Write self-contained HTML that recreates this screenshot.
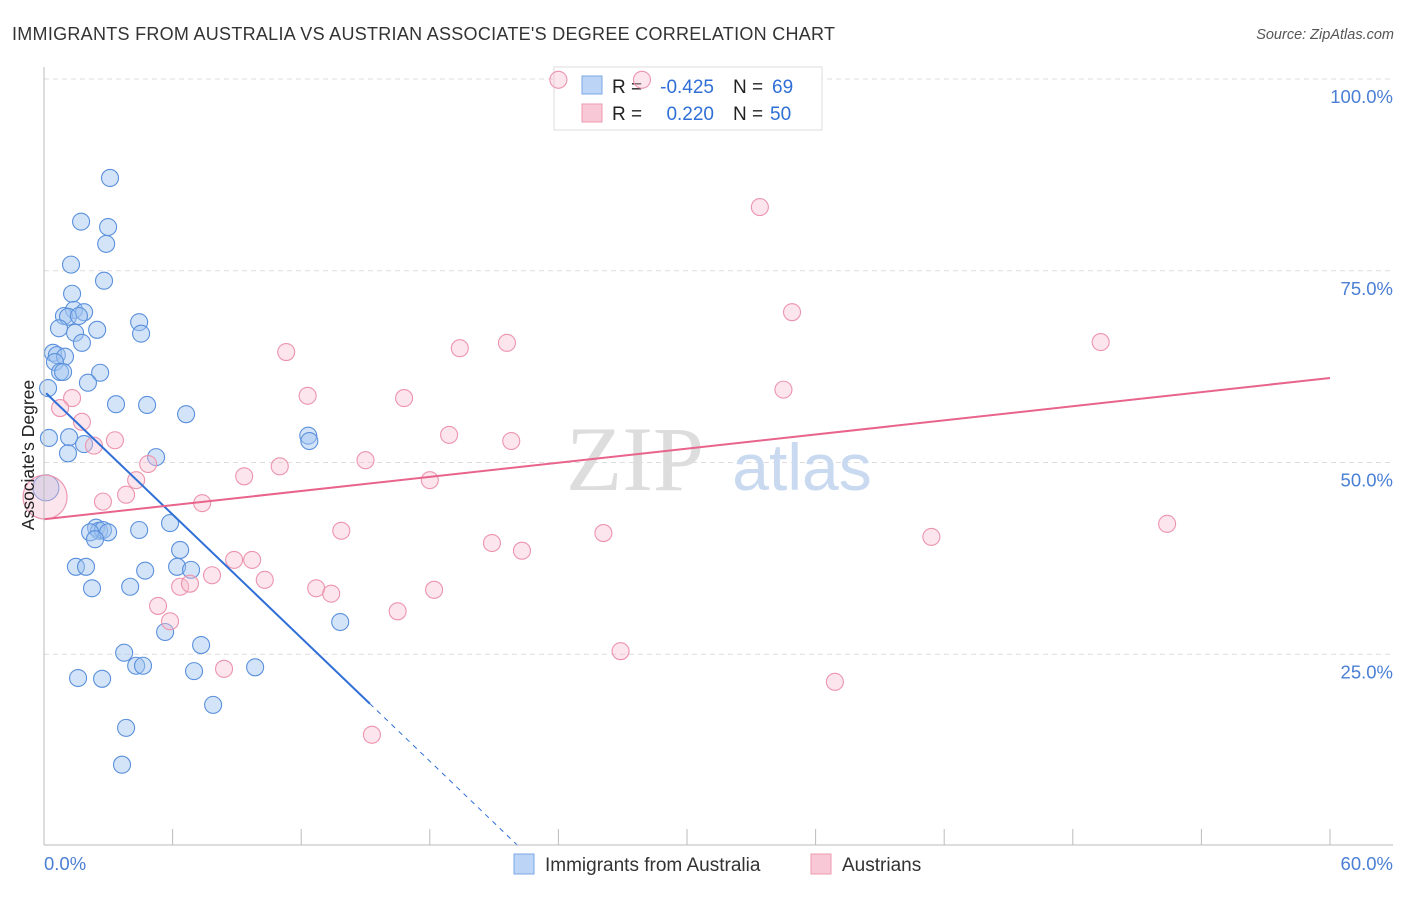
<!DOCTYPE html>
<html><head><meta charset="utf-8"><style>
body{margin:0;background:#fff;font-family:"Liberation Sans",sans-serif}
</style></head><body>
<svg width="1406" height="892" viewBox="0 0 1406 892" xmlns="http://www.w3.org/2000/svg">
<text x="12" y="40" font-size="18" fill="#333" textLength="823">IMMIGRANTS FROM AUSTRALIA VS AUSTRIAN ASSOCIATE'S DEGREE CORRELATION CHART</text>
<text x="1394" y="39" font-size="14.5" fill="#555" font-style="italic" text-anchor="end">Source: ZipAtlas.com</text>
<g id="grid"></g>
<text x="635" y="490" font-size="92" fill="#ddd" font-family="Liberation Serif,serif" text-anchor="middle">ZIP</text>
<text x="802" y="490" font-size="66" fill="#c9d9f0" text-anchor="middle">atlas</text>
<g>
<rect x="554" y="67" width="268" height="63" fill="#fff" stroke="#ddd"/>
<rect x="582" y="76" width="20" height="18" fill="#bcd4f5" stroke="#7aa7e6"/>
<rect x="582" y="104" width="20" height="18" fill="#f9c8d6" stroke="#ee9ab2"/>
<text x="612" y="93" font-size="19" fill="#222">R =</text>
<text x="714" y="93" font-size="19" fill="#2f6fd6" text-anchor="end">-0.425</text>
<text x="733" y="93" font-size="19" fill="#222">N =</text>
<text x="772" y="93" font-size="19" fill="#2f6fd6">69</text>
<text x="612" y="120" font-size="19" fill="#222">R =</text>
<text x="714" y="120" font-size="19" fill="#2f6fd6" text-anchor="end">0.220</text>
<text x="733" y="120" font-size="19" fill="#222">N =</text>
<text x="770" y="120" font-size="19" fill="#2f6fd6">50</text>
</g>
<g id="pts"></g>
<g id="lines"></g>
<line x1="44" y1="67" x2="44" y2="845" stroke="#bbb"/>
<line x1="44" y1="845" x2="1393" y2="845" stroke="#bbb"/>
<text x="34" y="455" font-size="17.5" fill="#222" text-anchor="middle" transform="rotate(-90 34 455)">Associate's Degree</text>
<text x="44" y="870" font-size="18.5" fill="#4a7fd4">0.0%</text>
<text x="1393" y="870" font-size="18.5" fill="#4a7fd4" text-anchor="end">60.0%</text>
<g>
<rect x="514" y="854" width="20" height="20" fill="#bcd4f5" stroke="#7aa7e6"/>
<text x="545" y="871" font-size="19" fill="#333">Immigrants from Australia</text>
<rect x="811" y="854" width="20" height="20" fill="#f9c8d6" stroke="#ee9ab2"/>
<text x="842" y="871" font-size="19" fill="#333">Austrians</text>
</g>
</svg>
<script>
const blueX=[3.08,1.73,2.99,2.9,1.26,2.8,1.31,1.4,1.87,0.93,1.12,1.63,4.44,2.48,0.7,4.53,1.45,1.77,0.42,0.6,0.98,0.51,0.75,0.89,2.62,2.05,0.19,3.36,4.81,6.63,12.33,12.38,0.23,1.17,1.87,1.12,5.23,0.09,5.88,4.44,2.43,2.57,2.75,2.99,2.15,2.38,6.35,1.49,1.96,6.21,6.86,4.72,2.24,4.02,5.65,13.82,7.33,3.74,4.3,4.62,7.0,9.85,1.59,2.71,7.89,3.83,3.64];
const blueY=[87.1,81.4,80.7,78.5,75.8,73.7,72.0,69.9,69.6,69.1,69.0,69.1,68.3,67.3,67.5,66.8,66.9,65.6,64.3,64.0,63.8,63.1,61.8,61.8,61.7,60.4,59.7,57.6,57.5,56.3,53.5,52.8,53.2,53.3,52.4,51.2,50.7,46.7,42.1,41.2,41.5,41.1,41.2,40.9,40.9,40.0,38.6,36.4,36.4,36.4,36.0,35.9,33.6,33.8,27.9,29.2,26.2,25.2,23.5,23.5,22.8,23.3,21.9,21.8,18.4,15.4,10.6];
const pinkX=[24.0,27.9,33.4,34.9,49.3,11.3,19.4,21.6,34.5,12.3,16.8,1.31,0.75,1.77,18.9,21.8,3.31,2.33,15.0,4.86,11.0,9.34,18.0,4.3,3.83,0.05,2.75,7.38,52.4,13.87,26.1,41.4,20.9,22.3,8.87,9.71,7.84,10.3,6.35,6.81,12.7,13.4,18.2,5.32,16.5,5.88,8.4,26.9,36.9,15.3];
const pinkY=[99.9,99.9,83.3,69.6,65.7,64.4,64.9,65.6,59.5,58.7,58.4,58.4,57.1,55.3,53.6,52.8,52.9,52.2,50.3,49.8,49.5,48.2,47.7,47.7,45.8,45.5,44.9,44.7,42.0,41.1,40.8,40.3,39.5,38.5,37.3,37.3,35.3,34.7,33.8,34.2,33.6,32.9,33.4,31.3,30.6,29.3,23.1,25.4,21.4,14.5];
const yTicks=[25,50,75,100];
const yTickLabels=["25.0%","50.0%","75.0%","100.0%"];
const xTicks=[0,6,12,18,24,30,36,42,48,54,60];
const blueTrend=[59.3,-2.68];
const pinkTrend=[42.6,0.307];
const NS="http://www.w3.org/2000/svg";
const sx=v=>44+v/60*1286;
const sy=v=>846-v*7.67;
function mk(t,a,p){const e=document.createElementNS(NS,t);for(const k in a)e.setAttribute(k,a[k]);p.appendChild(e);return e;}
const grid=document.getElementById('grid');
yTicks.forEach((t,i)=>{
 const l=mk('line',{x1:44,x2:1393,y1:sy(t),y2:sy(t),stroke:'#ddd','stroke-dasharray':'5,4'},grid);
 
 
 const tx=mk('text',{x:1393,y:sy(t)+24,'font-size':18.5,fill:'#4a7fd4','text-anchor':'end'},grid);
 tx.textContent=yTickLabels[i];
 
 
});
xTicks.forEach(t=>{
 const l=mk('line',{x1:sx(t),x2:sx(t),y1:829,y2:845,stroke:'#bbb'},grid);
 
 
});
const pts=document.getElementById('pts');
blueX.forEach((x,i)=>{
 const r=(i==37)?13:8.5;
 const c=mk('circle',{cx:sx(x),cy:sy(blueY[i]),r:r,fill:'rgba(160,195,240,0.45)',stroke:'#5a90dc','stroke-width':1.1},pts);
 
 
});
pinkX.forEach((x,i)=>{
 const r=(i==25)?22:8.5;
 const c=mk('circle',{cx:sx(x),cy:sy(pinkY[i]),r:r,fill:'rgba(248,190,208,0.4)',stroke:'#ec94ae','stroke-width':1.1},pts);
 
 
});
const lines=document.getElementById('lines');
const bEnd=15.2, bZero=-blueTrend[0]/blueTrend[1];
let l=mk('line',{x1:sx(0.1),y1:sy(blueTrend[0]+blueTrend[1]*0.1),x2:sx(bEnd),y2:sy(blueTrend[0]+blueTrend[1]*bEnd),stroke:'#2f6fd6','stroke-width':2},lines);


l=mk('line',{x1:sx(bEnd),y1:sy(blueTrend[0]+blueTrend[1]*bEnd),x2:sx(bZero),y2:sy(0),stroke:'#2f6fd6','stroke-width':1,'stroke-dasharray':'5,5'},lines);


l=mk('line',{x1:sx(0),y1:sy(pinkTrend[0]),x2:sx(60),y2:sy(pinkTrend[0]+pinkTrend[1]*60),stroke:'#e8648c','stroke-width':2},lines);


</script>
</body></html>
